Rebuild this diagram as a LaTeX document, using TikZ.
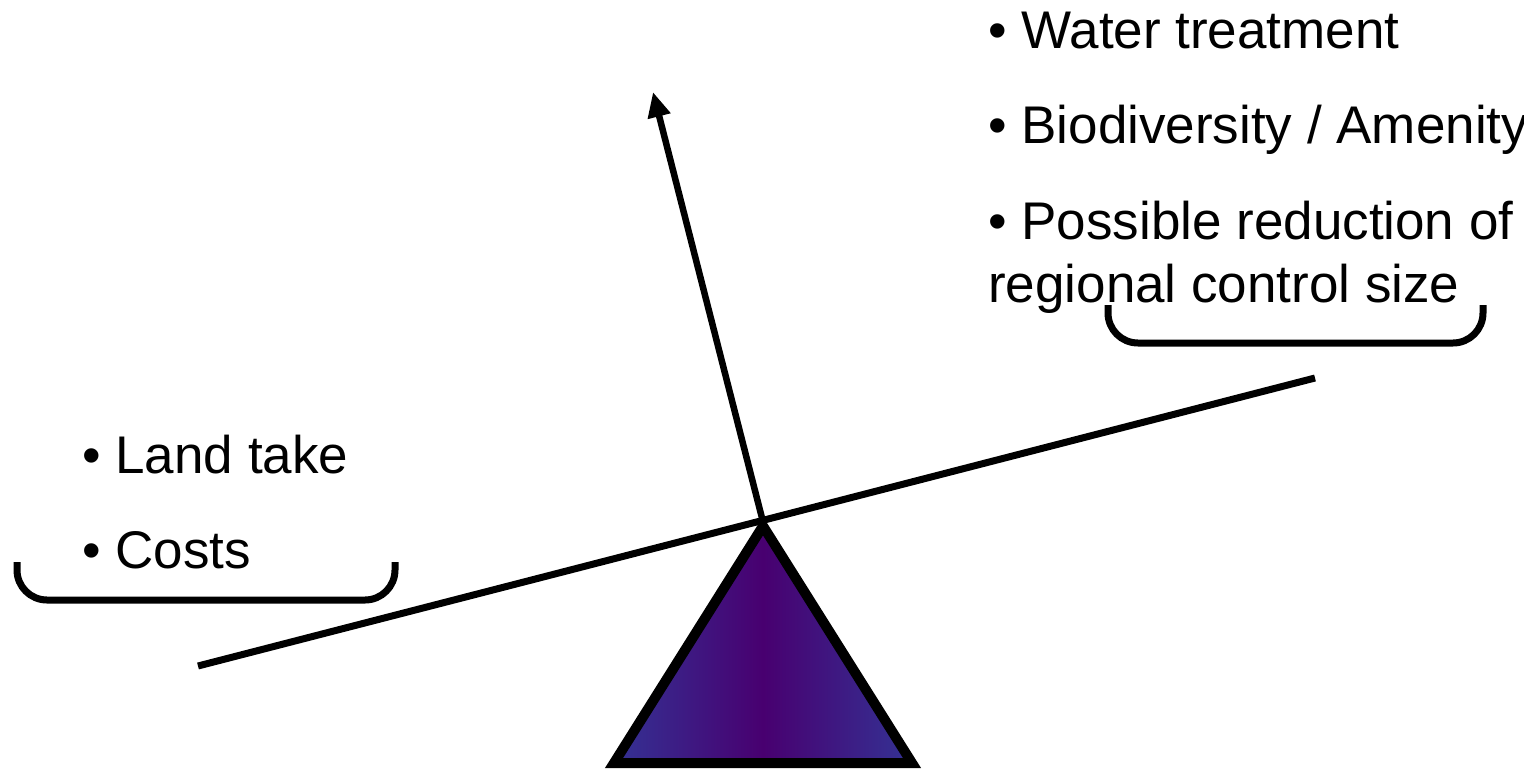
\documentclass[tikz,border=0pt]{standalone}
\usepackage{fontspec}
\setmainfont{Liberation Sans}
\usetikzlibrary{arrows.meta}

\definecolor{fulcedge}{RGB}{52,50,148}
\definecolor{fulcmid}{RGB}{72,0,112}

\begin{document}
\begin{tikzpicture}[x=1pt, y=-1pt, >=Latex,
  bullettext/.style={anchor=base west, inner sep=0pt, align=left, font=\fontsize{53}{63}\selectfont},
  bracket/.style={draw, line width=7pt, rounded corners=30pt},
  beam/.style={draw, line width=7pt}]
\clip (0,0) rectangle (1524,769);
% fulcrum
\shade[left color=fulcedge, right color=fulcedge, middle color=fulcmid]
  (763,526) -- (614,763) -- (912,763) -- cycle;
\draw[line width=10pt, line join=miter] (763,526) -- (614,763) -- (912,763) -- cycle;
% beam and pointer
\coordinate (beamL) at (198,666);
\coordinate (beamR) at (1315,378);
\coordinate (pivot) at (762,518);
\coordinate (tip) at (653,92);
\draw[beam] (beamL) -- (beamR);
\draw[line width=6.5pt, -{Triangle[length=25pt,width=22pt]}] (pivot) -- (tip);
% right side
\node[bullettext] (water) at (988,48) {• Water treatment};
\node[bullettext] (biodiv) at (988,143) {• Biodiversity / Amenity};
\node[bullettext, anchor=north west] (reduction) at (988,201) {• Possible reduction of\\regional control size};
\draw[bracket] (1108,305) -- (1108,343) -- (1483,343) -- (1483,305);
% left side
\node[bullettext] (land) at (82,473) {• Land take};
\node[bullettext] (costs) at (82,568) {• Costs};
\draw[bracket] (17,562) -- (17,600) -- (395,600) -- (395,562);
\end{tikzpicture}
\end{document}
